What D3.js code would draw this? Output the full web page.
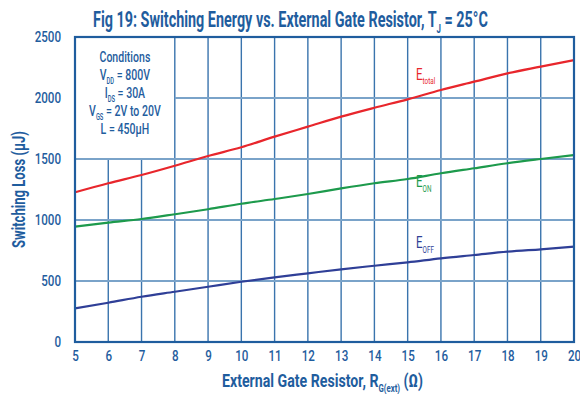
<!DOCTYPE html>
<html>
<head>
<meta charset="utf-8">
<script src="https://cdn.jsdelivr.net/npm/d3@7"></script>
<style>
  html, body { margin: 0; padding: 0; background: #fff; }
  svg { display: block; }
  text { font-family: Roboto, "Noto Sans", "DejaVu Sans", sans-serif; }
</style>
</head>
<body>
<svg id="chart" width="580" height="394"></svg>
<script>
// Gate resistance values (Ω)
const resistance = [5, 6, 7, 8, 9, 10, 11, 12, 13, 14, 15, 16, 17, 18, 19, 20];
// Switching energies (µJ)
const eTotal = [1227, 1301, 1369, 1445, 1525, 1596, 1683, 1765, 1847, 1920, 1989, 2066, 2134, 2202, 2257, 2311];
const eOn    = [945, 978, 1008, 1047, 1088, 1133, 1172, 1213, 1259, 1301, 1336, 1383, 1424, 1465, 1500, 1533];
const eOff   = [276, 322, 371, 412, 453, 494, 530, 563, 596, 625, 653, 686, 713, 740, 760, 781];
const yTicks = [0, 500, 1000, 1500, 2000, 2500];
const xTicks = [5, 6, 7, 8, 9, 10, 11, 12, 13, 14, 15, 16, 17, 18, 19, 20];
const conditions = [
  [{ t: "Conditions" }],
  [{ t: "V" }, { t: "DD", sub: true }, { t: " = 800V" }],
  [{ t: "I" }, { t: "DS", sub: true }, { t: " = 30A" }],
  [{ t: "V" }, { t: "GS", sub: true }, { t: " = 2V to 20V" }],
  [{ t: "L = 450µH" }]
];
const seriesInfo = [
  { name: "total", values: eTotal, color: "#e8262c", labelAt: 2150 },
  { name: "ON",    values: eOn,    color: "#1d9a4c", labelAt: 1270 },
  { name: "OFF",   values: eOff,   color: "#2f3f97", labelAt: 770 }
];

const ink = "#1f5d9e";
const svg = d3.select("#chart");
const L = 75, R = 574, T = 37, B = 342;
const x = d3.scaleLinear().domain([5, 20]).range([L, R]);
const y = d3.scaleLinear().domain([0, 2500]).range([B, T]);

// Narrow-set text: parts may be subscripts; squeezed horizontally by a fixed
// factor, or to a target width when one is given.
function narrowText(parent, px, py, parts, opts) {
  const g = parent.append("g");
  const t = g.append("text")
    .attr("text-anchor", opts.anchor || "start")
    .attr("font-size", opts.size)
    .attr("font-weight", opts.weight || "normal")
    .attr("fill", opts.color || ink);
  let low = false;
  parts.forEach(p => {
    const s = t.append("tspan").text(p.t);
    if (p.sub && !low) { s.attr("dy", opts.size * 0.28).attr("font-size", opts.size * 0.55); low = true; }
    else if (p.sub) { s.attr("font-size", opts.size * 0.55); }
    else if (!p.sub && low) { s.attr("dy", -opts.size * 0.28); low = false; }
  });
  let sx = opts.scale || 1;
  if (opts.width) sx = opts.width / t.node().getBBox().width;
  const rot = opts.rotate ? ` rotate(${opts.rotate})` : "";
  g.attr("transform", `translate(${px},${py})${rot} scale(${sx},1)`);
  return g;
}

// Title
narrowText(svg, 93, 27,
  [{ t: "Fig 19: Switching Energy vs. External Gate Resistor, T" }, { t: "J", sub: true }, { t: " = 25°C" }],
  { size: 22.5, weight: "bold", width: 395 });

// Grid: the conditions panel (5–8 Ω, 1500–2500 µJ) stays clear
const grid = svg.append("g");
xTicks.slice(1, -1).forEach(v => {
  const top = (v < 8) ? y(1500) : T;
  grid.append("line")
    .attr("x1", x(v)).attr("x2", x(v)).attr("y1", top).attr("y2", B)
    .attr("stroke", "#3a74ad").attr("stroke-width", 1.4);
});
yTicks.slice(1, -1).forEach(v => {
  const left = (v > 1500) ? x(8) : L;
  grid.append("line")
    .attr("x1", left).attr("x2", R).attr("y1", y(v)).attr("y2", y(v))
    .attr("stroke", "#7aa3c9").attr("stroke-width", 2);
});

// Curves
const line = d3.line().x((d, i) => x(resistance[i])).y(d => y(d)).curve(d3.curveMonotoneX);
seriesInfo.forEach(s => {
  svg.append("path").datum(s.values)
    .attr("d", line).attr("fill", "none")
    .attr("stroke", s.color).attr("stroke-width", 2.2);
});

// Series labels
seriesInfo.forEach(s => {
  narrowText(svg, 416, y(s.labelAt), [{ t: "E" }, { t: s.name, sub: true }],
    { size: 16, color: s.color, scale: 0.72 });
});

// Frame
svg.append("rect")
  .attr("x", L).attr("y", T).attr("width", R - L).attr("height", B - T)
  .attr("fill", "none").attr("stroke", ink).attr("stroke-width", 2.2);

// Conditions text
conditions.forEach((c, i) => {
  narrowText(svg, x(6.5), 62 + i * 18, c, { size: 15.5, weight: 500, anchor: "middle", scale: 0.68 });
});

// Axes
const yAxis = svg.append("g").attr("transform", `translate(${L},0)`)
  .call(d3.axisLeft(y).tickValues(yTicks).tickFormat(d3.format("d")).tickSize(0).tickPadding(14));
const xAxis = svg.append("g").attr("transform", `translate(0,${B})`)
  .call(d3.axisBottom(x).tickValues(xTicks).tickFormat(d3.format("d")).tickSize(0).tickPadding(9));
[yAxis, xAxis].forEach(a => {
  a.select(".domain").remove();
  a.selectAll("text").attr("font-size", 14.5).attr("fill", ink)
    .attr("font-family", "Roboto, sans-serif").attr("font-weight", "500");
});
yAxis.selectAll("text").attr("x", 0).attr("transform", "translate(-14,0) scale(0.8,1)");
xAxis.selectAll("text").attr("transform", "scale(0.8,1)");

// Axis titles
narrowText(svg, 222, 387,
  [{ t: "External Gate Resistor, R" }, { t: "G(ext)", sub: true }, { t: " (Ω)" }],
  { size: 19, weight: "bold", width: 201 });

narrowText(svg, 25, (T + B) / 2, [{ t: "Switching Loss (µJ)" }],
  { size: 18, weight: "bold", anchor: "middle", rotate: -90, width: 117 });
</script>
</body>
</html>
